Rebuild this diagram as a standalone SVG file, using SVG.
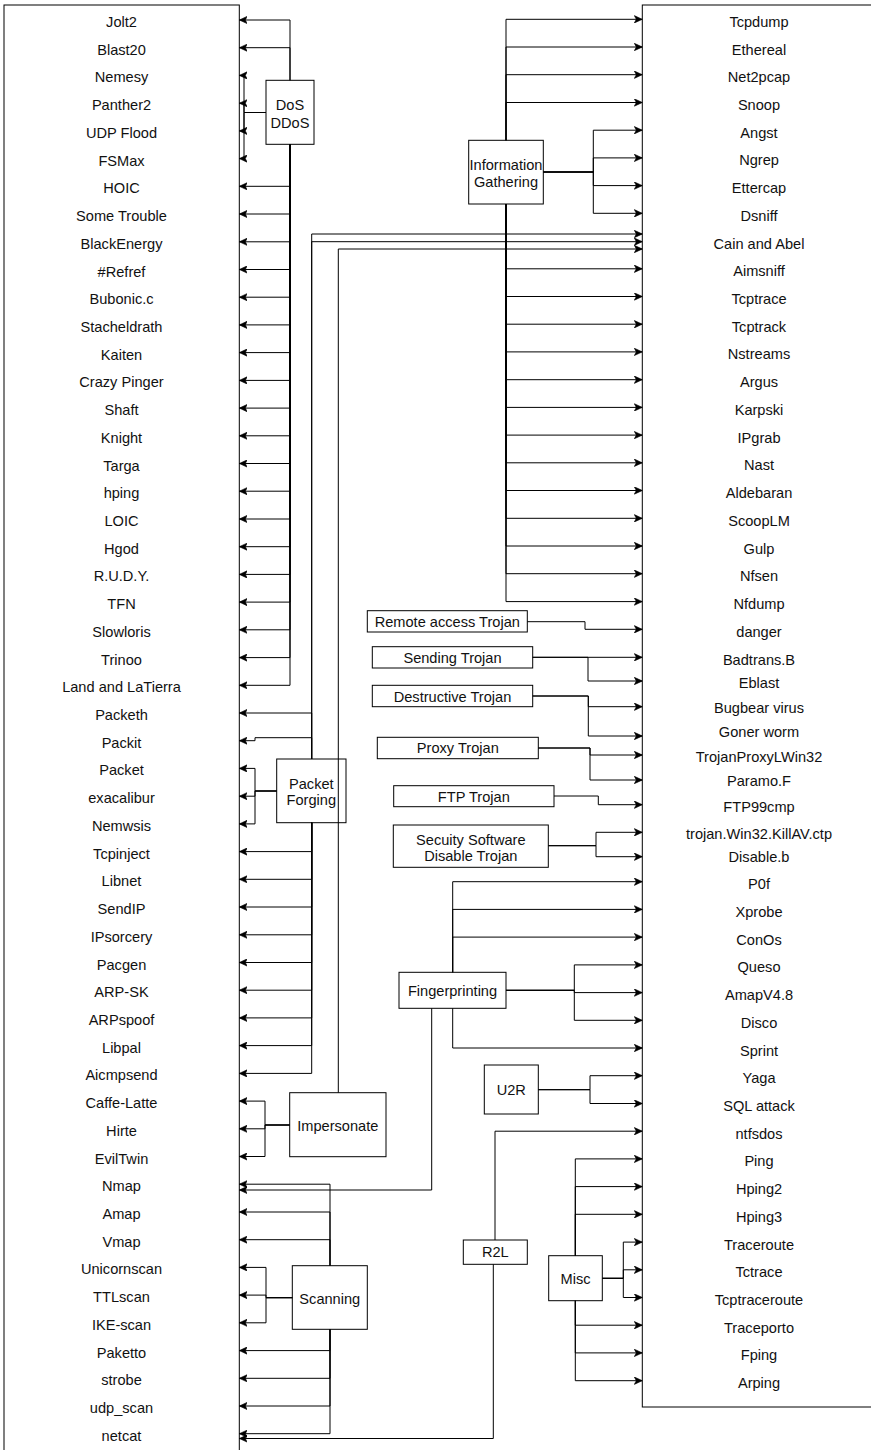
<svg xmlns="http://www.w3.org/2000/svg" width="871" height="1450" viewBox="0 0 871 1450">
<style>
.box{fill:#fff;stroke:#000;stroke-width:1}
.e{fill:none;stroke:#000;stroke-width:1;marker-end:url(#a)}
text{font-family:"Liberation Sans",Arial,Helvetica,sans-serif;font-size:14.6px;text-anchor:middle;fill:#111}
</style>
<defs>
<marker id="a" viewBox="0 0 8 8" refX="8" refY="4" markerWidth="8" markerHeight="8" markerUnits="userSpaceOnUse" orient="auto"><path d="M0,0.3 L8,4 L0,7.7 L2,4 Z" fill="#000" stroke="#000" stroke-width="0.6" stroke-linejoin="miter"/></marker>
</defs>
<rect x="0" y="0" width="871" height="1450" fill="#fff"/>

<g id="left-list">
<rect class="box" x="4" y="5" width="235.3" height="1460"/>
<text x="121.5" y="27">Jolt2</text>
<text x="121.5" y="54.7">Blast20</text>
<text x="121.5" y="82.4">Nemesy</text>
<text x="121.5" y="110.2">Panther2</text>
<text x="121.5" y="137.9">UDP Flood</text>
<text x="121.5" y="165.6">FSMax</text>
<text x="121.5" y="193.3">HOIC</text>
<text x="121.5" y="221">Some Trouble</text>
<text x="121.5" y="248.8">BlackEnergy</text>
<text x="121.5" y="276.5">#Refref</text>
<text x="121.5" y="304.2">Bubonic.c</text>
<text x="121.5" y="331.9">Stacheldrath</text>
<text x="121.5" y="359.6">Kaiten</text>
<text x="121.5" y="387.4">Crazy Pinger</text>
<text x="121.5" y="415.1">Shaft</text>
<text x="121.5" y="442.8">Knight</text>
<text x="121.5" y="470.5">Targa</text>
<text x="121.5" y="498.2">hping</text>
<text x="121.5" y="526">LOIC</text>
<text x="121.5" y="553.7">Hgod</text>
<text x="121.5" y="581.4">R.U.D.Y.</text>
<text x="121.5" y="609.1">TFN</text>
<text x="121.5" y="636.8">Slowloris</text>
<text x="121.5" y="664.6">Trinoo</text>
<text x="121.5" y="692.3">Land and LaTierra</text>
<text x="121.5" y="720">Packeth</text>
<text x="121.5" y="747.7">Packit</text>
<text x="121.5" y="775.4">Packet</text>
<text x="121.5" y="803.2">exacalibur</text>
<text x="121.5" y="830.9">Nemwsis</text>
<text x="121.5" y="858.6">Tcpinject</text>
<text x="121.5" y="886.3">Libnet</text>
<text x="121.5" y="914">SendIP</text>
<text x="121.5" y="941.8">IPsorcery</text>
<text x="121.5" y="969.5">Pacgen</text>
<text x="121.5" y="997.2">ARP-SK</text>
<text x="121.5" y="1024.9">ARPspoof</text>
<text x="121.5" y="1052.6">Libpal</text>
<text x="121.5" y="1080.4">Aicmpsend</text>
<text x="121.5" y="1108.1">Caffe-Latte</text>
<text x="121.5" y="1135.8">Hirte</text>
<text x="121.5" y="1163.5">EvilTwin</text>
<text x="121.5" y="1191.2">Nmap</text>
<text x="121.5" y="1219">Amap</text>
<text x="121.5" y="1246.7">Vmap</text>
<text x="121.5" y="1274.4">Unicornscan</text>
<text x="121.5" y="1302.1">TTLscan</text>
<text x="121.5" y="1329.8">IKE-scan</text>
<text x="121.5" y="1357.6">Paketto</text>
<text x="121.5" y="1385.3">strobe</text>
<text x="121.5" y="1413">udp_scan</text>
<text x="121.5" y="1440.7">netcat</text>
</g>

<g id="right-list">
<rect class="box" x="642.3" y="5" width="234" height="1402"/>
<text x="759" y="26.8">Tcpdump</text>
<text x="759" y="54.5">Ethereal</text>
<text x="759" y="82.2">Net2pcap</text>
<text x="759" y="110">Snoop</text>
<text x="759" y="137.7">Angst</text>
<text x="759" y="165.4">Ngrep</text>
<text x="759" y="193.1">Ettercap</text>
<text x="759" y="220.8">Dsniff</text>
<text x="759" y="248.6">Cain and Abel</text>
<text x="759" y="276.3">Aimsniff</text>
<text x="759" y="304">Tcptrace</text>
<text x="759" y="331.7">Tcptrack</text>
<text x="759" y="359.4">Nstreams</text>
<text x="759" y="387.2">Argus</text>
<text x="759" y="414.9">Karpski</text>
<text x="759" y="442.6">IPgrab</text>
<text x="759" y="470.3">Nast</text>
<text x="759" y="498">Aldebaran</text>
<text x="759" y="525.8">ScoopLM</text>
<text x="759" y="553.5">Gulp</text>
<text x="759" y="581.2">Nfsen</text>
<text x="759" y="608.9">Nfdump</text>
<text x="759" y="636.5">danger</text>
<text x="759" y="665">Badtrans.B</text>
<text x="759" y="687.7">Eblast</text>
<text x="759" y="712.8">Bugbear virus</text>
<text x="759" y="737">Goner worm</text>
<text x="759" y="762">TrojanProxyLWin32</text>
<text x="759" y="786">Paramo.F</text>
<text x="759" y="811.5">FTP99cmp</text>
<text x="759" y="839">trojan.Win32.KillAV.ctp</text>
<text x="759" y="862">Disable.b</text>
<text x="759" y="889">P0f</text>
<text x="759" y="916.9">Xprobe</text>
<text x="759" y="944.6">ConOs</text>
<text x="759" y="972.4">Queso</text>
<text x="759" y="1000.1">AmapV4.8</text>
<text x="759" y="1027.8">Disco</text>
<text x="759" y="1055.5">Sprint</text>
<text x="759" y="1083.2">Yaga</text>
<text x="759" y="1111">SQL attack</text>
<text x="759" y="1138.7">ntfsdos</text>
<text x="759" y="1166.4">Ping</text>
<text x="759" y="1194.1">Hping2</text>
<text x="759" y="1221.8">Hping3</text>
<text x="759" y="1249.6">Traceroute</text>
<text x="759" y="1277.3">Tctrace</text>
<text x="759" y="1305">Tcptraceroute</text>
<text x="759" y="1332.7">Traceporto</text>
<text x="759" y="1360.4">Fping</text>
<text x="759" y="1388.2">Arping</text>
</g>

<g id="dos">
<rect class="box" x="266" y="80.3" width="48" height="64"/>
<text x="290" y="110">DoS</text>
<text x="290" y="127.5">DDoS</text>
</g>
<g id="info-gathering">
<rect class="box" x="468.7" y="140.3" width="74.6" height="63.7"/>
<text x="506" y="169.5">Information</text>
<text x="506" y="187">Gathering</text>
</g>
<g id="packet-forging">
<rect class="box" x="276.7" y="759" width="69.3" height="63.7"/>
<text x="311.3" y="788.5">Packet</text>
<text x="311.3" y="805">Forging</text>
</g>
<g id="remote-access-trojan">
<rect class="box" x="367.3" y="610.7" width="160" height="21.3"/>
<text x="447.3" y="627">Remote access Trojan</text>
</g>
<g id="sending-trojan">
<rect class="box" x="372.3" y="646.7" width="160.4" height="21.3"/>
<text x="452.5" y="663">Sending Trojan</text>
</g>
<g id="destructive-trojan">
<rect class="box" x="372.3" y="685.3" width="160.4" height="21.4"/>
<text x="452.5" y="701.5">Destructive Trojan</text>
</g>
<g id="proxy-trojan">
<rect class="box" x="377.3" y="737.3" width="161" height="21.4"/>
<text x="457.8" y="753.3">Proxy Trojan</text>
</g>
<g id="ftp-trojan">
<rect class="box" x="393.7" y="785.7" width="160.3" height="21"/>
<text x="473.8" y="801.5">FTP Trojan</text>
</g>
<g id="security-disable-trojan">
<rect class="box" x="393.3" y="825" width="155" height="42.3"/>
<text x="470.8" y="844.5">Secuity Software</text>
<text x="470.8" y="861">Disable Trojan</text>
</g>
<g id="fingerprinting">
<rect class="box" x="399" y="972.3" width="107" height="36"/>
<text x="452.5" y="995.5">Fingerprinting</text>
</g>
<g id="u2r">
<rect class="box" x="484.3" y="1065" width="54" height="49"/>
<text x="511.3" y="1095">U2R</text>
</g>
<g id="impersonate">
<rect class="box" x="289.7" y="1092.7" width="96.3" height="64"/>
<text x="337.8" y="1130.5">Impersonate</text>
</g>
<g id="r2l">
<rect class="box" x="463.3" y="1240" width="64" height="24.3"/>
<text x="495.3" y="1257.3">R2L</text>
</g>
<g id="misc">
<rect class="box" x="548.7" y="1255.7" width="53.6" height="45"/>
<text x="575.5" y="1283.5">Misc</text>
</g>
<g id="scanning">
<rect class="box" x="292.3" y="1265.7" width="75" height="63.6"/>
<text x="329.8" y="1303.5">Scanning</text>
</g>

<g id="connectors">
<!-- DoS -->
<path class="e" d="M290,80.3 V20 H239.3"/>
<path class="e" d="M290,80.3 V47.7 H239.3"/>
<path class="e" d="M266,112.5 H244 V75.4 H239.3"/>
<path class="e" d="M266,112.5 H244 V103.2 H239.3"/>
<path class="e" d="M266,112.5 H244 V130.9 H239.3"/>
<path class="e" d="M266,112.5 H244 V158.6 H239.3"/>
<path class="e" d="M290,144.3 V186.3 H239.3"/>
<path class="e" d="M290,144.3 V214 H239.3"/>
<path class="e" d="M290,144.3 V241.8 H239.3"/>
<path class="e" d="M290,144.3 V269.5 H239.3"/>
<path class="e" d="M290,144.3 V297.2 H239.3"/>
<path class="e" d="M290,144.3 V324.9 H239.3"/>
<path class="e" d="M290,144.3 V352.6 H239.3"/>
<path class="e" d="M290,144.3 V380.4 H239.3"/>
<path class="e" d="M290,144.3 V408.1 H239.3"/>
<path class="e" d="M290,144.3 V435.8 H239.3"/>
<path class="e" d="M290,144.3 V463.5 H239.3"/>
<path class="e" d="M290,144.3 V491.2 H239.3"/>
<path class="e" d="M290,144.3 V519 H239.3"/>
<path class="e" d="M290,144.3 V546.7 H239.3"/>
<path class="e" d="M290,144.3 V574.4 H239.3"/>
<path class="e" d="M290,144.3 V602.1 H239.3"/>
<path class="e" d="M290,144.3 V629.8 H239.3"/>
<path class="e" d="M290,144.3 V657.6 H239.3"/>
<path class="e" d="M290,144.3 V685.3 H239.3"/>
<!-- Packet Forging -->
<path class="e" d="M311.7,759 V713 H239.3"/>
<path class="e" d="M311.7,759 V737.7 H255 V740.7 H239.3"/>
<path class="e" d="M311.7,759 V234 H642.3"/>
<path class="e" d="M311.7,759 V241.7 H642.3"/>
<path class="e" d="M276.7,791 H255 V768.4 H239.3"/>
<path class="e" d="M276.7,791 H255 V796.2 H239.3"/>
<path class="e" d="M276.7,791 H255 V823.9 H239.3"/>
<path class="e" d="M311.7,822.7 V851.6 H239.3"/>
<path class="e" d="M311.7,822.7 V879.3 H239.3"/>
<path class="e" d="M311.7,822.7 V907 H239.3"/>
<path class="e" d="M311.7,822.7 V934.8 H239.3"/>
<path class="e" d="M311.7,822.7 V962.5 H239.3"/>
<path class="e" d="M311.7,822.7 V990.2 H239.3"/>
<path class="e" d="M311.7,822.7 V1017.9 H239.3"/>
<path class="e" d="M311.7,822.7 V1045.6 H239.3"/>
<path class="e" d="M311.7,822.7 V1073.4 H239.3"/>
<!-- Impersonate -->
<path class="e" d="M338.3,1092.7 V249 H642.3"/>
<path class="e" d="M289.7,1125 H265 V1101.1 H239.3"/>
<path class="e" d="M289.7,1125 H265 V1128.8 H239.3"/>
<path class="e" d="M289.7,1125 H265 V1156.5 H239.3"/>
<!-- Scanning -->
<path class="e" d="M330,1265.7 V1184.2 H239.3"/>
<path class="e" d="M330,1265.7 V1212 H239.3"/>
<path class="e" d="M330,1265.7 V1239.7 H239.3"/>
<path class="e" d="M292.3,1297.7 H266 V1267.4 H239.3"/>
<path class="e" d="M292.3,1297.7 H266 V1295.1 H239.3"/>
<path class="e" d="M292.3,1297.7 H266 V1322.8 H239.3"/>
<path class="e" d="M330,1329.3 V1350.6 H239.3"/>
<path class="e" d="M330,1329.3 V1378.3 H239.3"/>
<path class="e" d="M330,1329.3 V1406 H239.3"/>
<path class="e" d="M330,1329.3 V1433.7 H239.3"/>
<!-- Information Gathering -->
<path class="e" d="M506,140.3 V19.3 H642.3"/>
<path class="e" d="M506,140.3 V47 H642.3"/>
<path class="e" d="M506,140.3 V74.7 H642.3"/>
<path class="e" d="M506,140.3 V102.5 H642.3"/>
<path class="e" d="M543.3,172 H593.3 V130.2 H642.3"/>
<path class="e" d="M543.3,172 H593.3 V157.9 H642.3"/>
<path class="e" d="M543.3,172 H593.3 V185.6 H642.3"/>
<path class="e" d="M543.3,172 H593.3 V213.3 H642.3"/>
<path class="e" d="M506,204 V268.8 H642.3"/>
<path class="e" d="M506,204 V296.5 H642.3"/>
<path class="e" d="M506,204 V324.2 H642.3"/>
<path class="e" d="M506,204 V351.9 H642.3"/>
<path class="e" d="M506,204 V379.7 H642.3"/>
<path class="e" d="M506,204 V407.4 H642.3"/>
<path class="e" d="M506,204 V435.1 H642.3"/>
<path class="e" d="M506,204 V462.8 H642.3"/>
<path class="e" d="M506,204 V490.5 H642.3"/>
<path class="e" d="M506,204 V518.3 H642.3"/>
<path class="e" d="M506,204 V546 H642.3"/>
<path class="e" d="M506,204 V573.7 H642.3"/>
<path class="e" d="M506,204 V601.6 H642.3"/>
<!-- Trojans -->
<path class="e" d="M527.3,621.7 H585 V629.3 H642.3"/>
<path class="e" d="M532.7,657.3 H642.3"/>
<path class="e" d="M532.7,657.3 H588 V681 H642.3"/>
<path class="e" d="M532.7,696 H588.3 V706.7 H642.3"/>
<path class="e" d="M532.7,696 H588.3 V736 H642.3"/>
<path class="e" d="M538.3,748 H590 V755 H642.3"/>
<path class="e" d="M538.3,748 H590 V780 H642.3"/>
<path class="e" d="M554,796 H598.3 V804.7 H642.3"/>
<path class="e" d="M548.3,845.7 H596 V832.3 H642.3"/>
<path class="e" d="M548.3,845.7 H596 V856.7 H642.3"/>
<!-- Fingerprinting -->
<path class="e" d="M452.7,972.3 V881.7 H642.3"/>
<path class="e" d="M452.7,972.3 V909.4 H642.3"/>
<path class="e" d="M452.7,972.3 V937.1 H642.3"/>
<path class="e" d="M506,990.3 H574.3 V964.9 H642.3"/>
<path class="e" d="M506,990.3 H574.3 V992.6 H642.3"/>
<path class="e" d="M506,990.3 H574.3 V1020.3 H642.3"/>
<path class="e" d="M452.7,1008.3 V1048 H642.3"/>
<path class="e" d="M431.7,1008.3 V1190 H239.3"/>
<!-- U2R -->
<path class="e" d="M538.3,1089.7 H590 V1075.7 H642.3"/>
<path class="e" d="M538.3,1089.7 H590 V1103.5 H642.3"/>
<!-- R2L -->
<path class="e" d="M495,1240 V1131.2 H642.3"/>
<path class="e" d="M493.3,1264.3 V1438.5 H239.3"/>
<!-- Misc -->
<path class="e" d="M575.3,1255.7 V1158.9 H642.3"/>
<path class="e" d="M575.3,1255.7 V1186.6 H642.3"/>
<path class="e" d="M575.3,1255.7 V1214.3 H642.3"/>
<path class="e" d="M602.3,1278.3 H623.3 V1242.1 H642.3"/>
<path class="e" d="M602.3,1278.3 H623.3 V1269.8 H642.3"/>
<path class="e" d="M602.3,1278.3 H623.3 V1297.5 H642.3"/>
<path class="e" d="M575.3,1300.7 V1325.2 H642.3"/>
<path class="e" d="M575.3,1300.7 V1352.9 H642.3"/>
<path class="e" d="M575.3,1300.7 V1380.7 H642.3"/>
</g>
</svg>
